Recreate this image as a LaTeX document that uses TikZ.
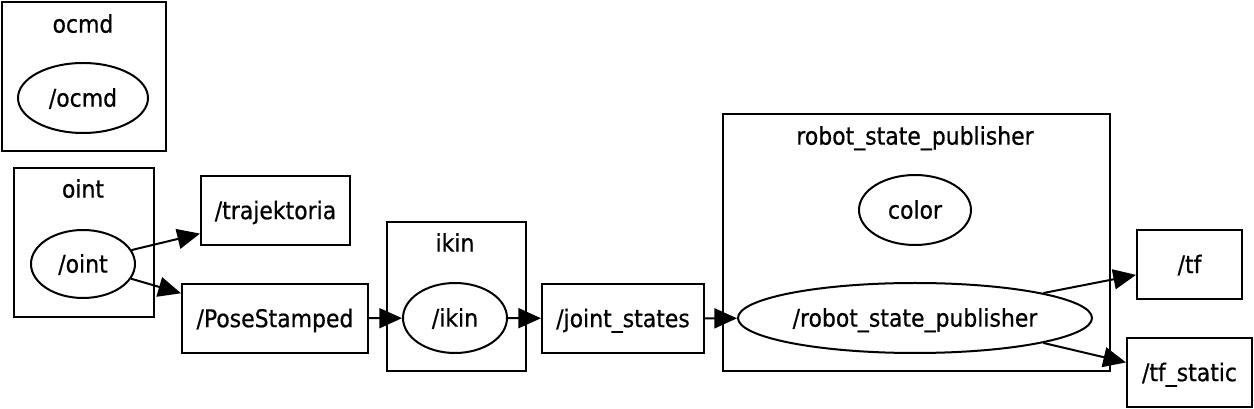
\documentclass[tikz,border=0pt]{standalone}
\usepackage{fontspec}
\setmainfont[FakeBold=0.6]{DejaVu Sans Condensed}
\usetikzlibrary{arrows.meta,shapes.geometric}

\begin{document}
\begin{tikzpicture}[
  x=0.75pt, y=-0.75pt,
  line width=1.5pt,
  every node/.style = {font=\fontsize{18.3}{20}\selectfont, text height=13pt, text depth=0pt, inner sep=0pt},
  cluster/.style = {draw, rectangle, anchor=north west},
  topic/.style = {draw, rectangle, minimum height=69*0.75pt},
  rosnode/.style = {draw, ellipse},
  edge/.style = {-{Triangle[length=17pt, width=15pt]}}
]
  \useasboundingbox (0,0) rectangle (1254,409);

  % clusters
  \node[cluster, minimum width=164*0.75pt, minimum height=149*0.75pt] (c_ocmd) at (1,1) {};
  \node[cluster, minimum width=140*0.75pt, minimum height=149*0.75pt] (c_oint) at (13,167) {};
  \node[cluster, minimum width=139*0.75pt, minimum height=149*0.75pt] (c_ikin) at (386,221) {};
  \node[cluster, minimum width=387*0.75pt, minimum height=257*0.75pt] (c_rsp) at (722,113) {};
  \node (l_ocmd) at (83,24) {ocmd};
  \node (l_oint) at (83,189) {oint};
  \node (l_ikin) at (455,243) {ikin};
  \node (l_rsp) at (915,136) {robot\_state\_publisher};

  % ros nodes
  \node[rosnode, minimum width=130*0.75pt, minimum height=70*0.75pt] (ocmd) at (83,98) {/ocmd};
  \node[rosnode, minimum width=104*0.75pt, minimum height=68*0.75pt] (oint) at (83,264) {/oint};
  \node[rosnode, minimum width=104*0.75pt, minimum height=70*0.75pt] (ikin) at (455,318) {/ikin};
  \node[rosnode, minimum width=112*0.75pt, minimum height=70*0.75pt] (color) at (915,210) {color};
  \node[rosnode, minimum width=354*0.75pt, minimum height=70*0.75pt] (rsp) at (915,318) {/robot\_state\_publisher};

  % topics
  \node[topic, minimum width=149*0.75pt] (traj) at (275.5,210.5) {/trajektoria};
  \node[topic, minimum width=186*0.75pt] (pose) at (275,318.5) {/PoseStamped};
  \node[topic, minimum width=162*0.75pt] (joint) at (623,318.5) {/joint\_states};
  \node[topic, minimum width=105*0.75pt] (tf) at (1189.5,264.5) {/tf};
  \node[topic, minimum width=125*0.75pt] (tfs) at (1189.5,372.5) {/tf\_static};

  % edges
  \draw[edge] (oint.16) -- (traj.197);
  \draw[edge] (oint.343) -- (pose.165);
  \draw[edge] (pose) -- (ikin);
  \draw[edge] (ikin) -- (joint);
  \draw[edge] (joint) -- (rsp);
  \draw[edge] (rsp.11) -- (tf.191);
  \draw[edge] (rsp.349) -- (tfs.171);
\end{tikzpicture}
\end{document}
